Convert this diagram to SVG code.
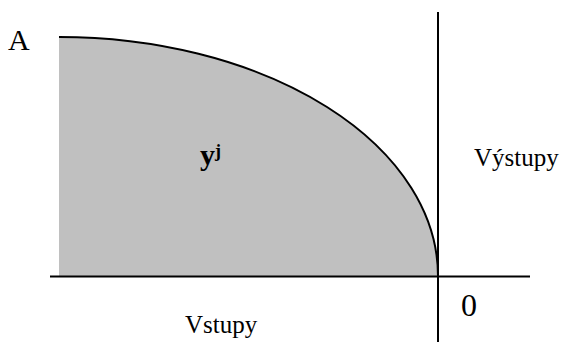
<svg xmlns="http://www.w3.org/2000/svg" width="566" height="342" viewBox="0 0 566 342">
<style>
text{font-family:'Liberation Serif','Times New Roman',serif;fill:#000}
.ax{stroke:#000;stroke-width:2;fill:none}
</style>
<rect width="566" height="342" fill="#fff"/>
<g id="region">
<path d="M59,37 A379,239 0 0 1 438,276 L59,276 Z" fill="#c0c0c0"/>
<path d="M59,37 A379,239 0 0 1 438,276" fill="none" stroke="#000" stroke-width="2"/>
<text x="200" y="165" font-size="30" font-weight="bold">y<tspan font-size="18" dy="-8">j</tspan></text>
</g>
<g id="axes">
<line class="ax" x1="50" y1="276.5" x2="530" y2="276.5"/>
<line class="ax" x1="438" y1="12" x2="438" y2="342"/>
</g>
<g id="labels">
<text x="8" y="50" font-size="30">A</text>
<text x="474" y="166" font-size="25">Výstupy</text>
<text x="461" y="316" font-size="32">0</text>
<text x="185" y="333" font-size="25">Vstupy</text>
</g>
</svg>
